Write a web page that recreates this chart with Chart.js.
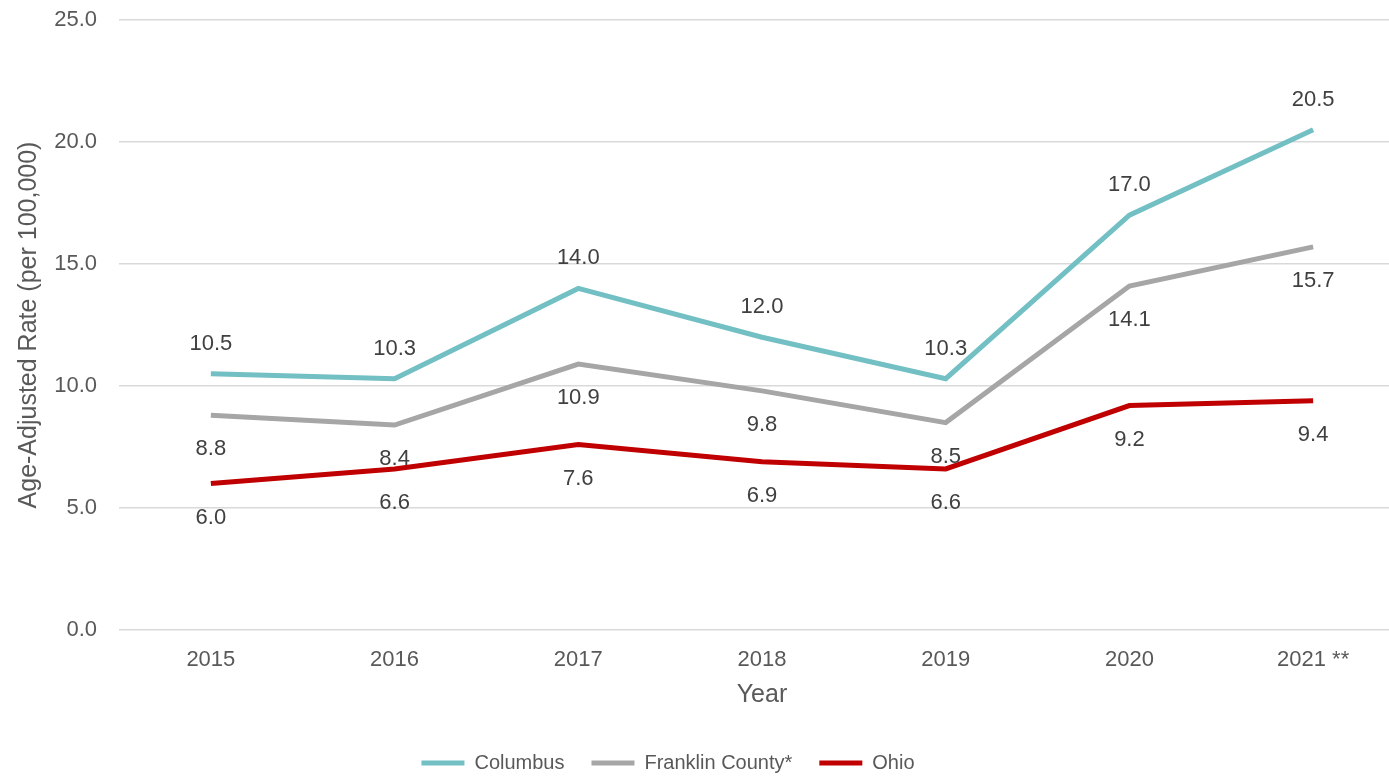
<!DOCTYPE html>
<html>
<head>
<meta charset="utf-8">
<script src="https://cdn.jsdelivr.net/npm/chart.js@4"></script>
<style>
  html, body { margin: 0; padding: 0; background: #fff; overflow: hidden; }
  #wrap { position: relative; width: 1422px; height: 783px; }
</style>
</head>
<body>
<div id="wrap"><canvas id="rateChart"></canvas></div>
<script>
const years = ['2015', '2016', '2017', '2018', '2019', '2020', '2021 **'];
const columbus = [10.5, 10.3, 14.0, 12.0, 10.3, 17.0, 20.5];
const franklin = [8.8, 8.4, 10.9, 9.8, 8.5, 14.1, 15.7];
const ohio = [6.0, 6.6, 7.6, 6.9, 6.6, 9.2, 9.4];

const fontFamily = '"Liberation Sans", Arial, sans-serif';
const textGrey = '#595959';

// value labels: Columbus above the line, the other two below
const valueLabels = {
    id: 'valueLabels',
    beforeDraw(chart) {
        // the plot runs past the right edge, so pull the legend back left
        chart.legend.left = 0;
        chart.legend.right = 1336;
    },
    afterDatasetsDraw(chart) {
        const ctx = chart.ctx;
        ctx.save();
        ctx.font = '22px ' + fontFamily;
        ctx.fillStyle = '#404040';
        ctx.textAlign = 'center';
        ctx.textBaseline = 'middle';
        chart.data.datasets.forEach((ds, i) => {
            const meta = chart.getDatasetMeta(i);
            meta.data.forEach((pt, j) => {
                const dy = i === 0 ? -30 : 34;
                ctx.fillText(ds.data[j].toFixed(1), pt.x, pt.y + dy);
            });
        });
        ctx.restore();
    }
};

const ctx = document.getElementById('rateChart').getContext('2d');
new Chart(ctx, {
    type: 'line',
    data: {
        labels: years,
        datasets: [
            { label: 'Columbus', data: columbus, borderColor: '#72bfc4', backgroundColor: '#72bfc4', borderWidth: 5 },
            { label: 'Franklin County*', data: franklin, borderColor: '#a6a6a6', backgroundColor: '#a6a6a6', borderWidth: 5 },
            { label: 'Ohio', data: ohio, borderColor: '#c00000', backgroundColor: '#c00000', borderWidth: 5 }
        ]
    },
    options: {
        responsive: true,
        maintainAspectRatio: false,
        animation: false,
        elements: {
            line: { tension: 0, borderCapStyle: 'butt' },
            point: { radius: 0, hoverRadius: 0 }
        },
        layout: { padding: { top: 20, right: 17, bottom: 0, left: 0 } },
        scales: {
            x: {
                offset: true,
                grid: { display: false, drawTicks: false },
                border: { display: false },
                ticks: { color: textGrey, font: { size: 22, family: fontFamily }, padding: 17, maxRotation: 0 },
                title: { display: true, text: 'Year', color: textGrey, font: { size: 25, family: fontFamily }, padding: { top: 0, bottom: 16 } },
                afterFit(scale) { scale.height = 96; }
            },
            y: {
                min: 0,
                max: 25,
                ticks: {
                    stepSize: 5,
                    color: textGrey,
                    font: { size: 22, family: fontFamily },
                    padding: 0,
                    callback: v => v.toFixed(1)
                },
                grid: { color: '#d9d9d9', lineWidth: 1.5, tickLength: 22, tickColor: 'rgba(0,0,0,0)' },
                border: { display: false },
                title: { display: true, text: 'Age-Adjusted Rate (per 100,000)', color: textGrey, font: { size: 25, family: fontFamily }, padding: { top: 14, bottom: 0 } },
                afterFit(scale) { scale.width = 119; }
            }
        },
        plugins: {
            legend: {
                position: 'bottom',
                labels: {
                    usePointStyle: true,
                    pointStyle: 'line',
                    pointStyleWidth: 43,
                    color: textGrey,
                    font: { size: 20, family: fontFamily },
                    padding: 27
                }
            },
            tooltip: { enabled: false }
        }
    },
    plugins: [valueLabels]
});
</script>
</body>
</html>
